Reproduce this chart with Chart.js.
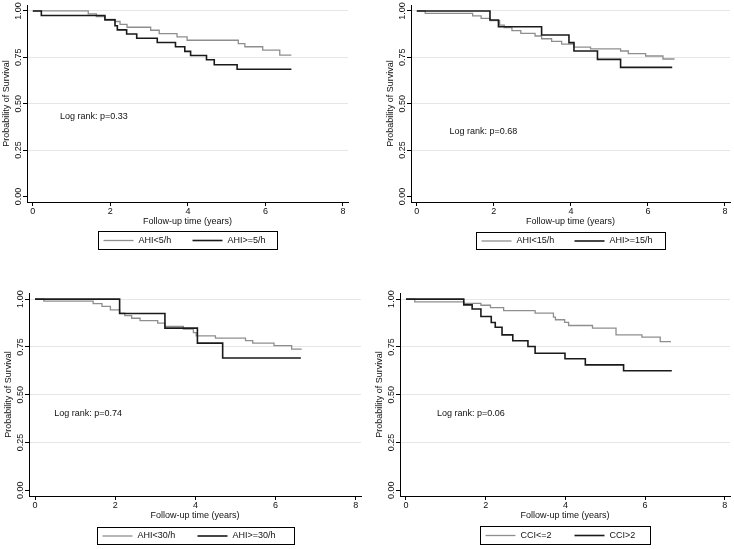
<!DOCTYPE html>
<html>
<head>
<meta charset="utf-8">
<script src="https://cdn.jsdelivr.net/npm/chart.js@4.4.1/dist/chart.umd.min.js"></script>
<style>
body { margin: 0; background: #fff; }
#wrap { position: relative; width: 734px; height: 549px; overflow: hidden; }
canvas { position: absolute; }
</style>
</head>
<body>
<div id="wrap">
  <canvas id="c1" width="358" height="254" style="left:0px;top:0px"></canvas>
  <canvas id="c2" width="350" height="254" style="left:384px;top:0px"></canvas>
  <canvas id="c3" width="365" height="258" style="left:2px;top:288px"></canvas>
  <canvas id="c4" width="361" height="258" style="left:373px;top:288px"></canvas>
</div>
<script>
// tick labels
var xTicks = [0, 2, 4, 6, 8];
var yTicks = [0, 0.25, 0.5, 0.75, 1];

// AHI 5/h
var ahi5LoTime = [0, 1.43, 1.64, 1.86, 2.12, 2.25, 2.43, 3.04, 3.26, 3.72, 3.98, 5.30, 5.47, 5.93, 6.37, 6.67];
var ahi5LoSurv = [1, 0.984, 0.969, 0.955, 0.943, 0.928, 0.912, 0.896, 0.878, 0.860, 0.842, 0.824, 0.807, 0.789, 0.762, 0.762];
var ahi5HiTime = [0, 0.22, 1.86, 2.12, 2.18, 2.42, 2.68, 3.21, 3.68, 3.92, 4.07, 4.48, 4.68, 5.27, 6.67];
var ahi5HiSurv = [1, 0.975, 0.952, 0.920, 0.898, 0.876, 0.853, 0.830, 0.807, 0.782, 0.760, 0.737, 0.710, 0.686, 0.686];

// AHI 15/h
var ahi15LoTime = [0, 0.22, 1.45, 1.67, 1.90, 2.15, 2.27, 2.47, 2.70, 3.07, 3.24, 3.50, 3.76, 4.08, 4.51, 5.29, 5.49, 5.94, 6.39, 6.69];
var ahi15LoSurv = [1, 0.987, 0.973, 0.960, 0.948, 0.924, 0.910, 0.894, 0.879, 0.865, 0.850, 0.836, 0.821, 0.805, 0.796, 0.784, 0.770, 0.757, 0.741, 0.741];
var ahi15HiTime = [0, 1.90, 2.12, 3.24, 3.95, 4.08, 4.69, 5.29, 6.63];
var ahi15HiSurv = [1, 0.951, 0.915, 0.870, 0.829, 0.784, 0.739, 0.696, 0.696];

// AHI 30/h
var ahi30LoTime = [0, 0.22, 1.45, 1.67, 1.88, 2.11, 2.24, 2.41, 2.62, 3.06, 3.24, 3.70, 3.95, 4.02, 4.50, 5.25, 5.43, 5.96, 6.40, 6.65];
var ahi30LoSurv = [1, 0.990, 0.976, 0.962, 0.944, 0.927, 0.914, 0.900, 0.888, 0.874, 0.857, 0.843, 0.825, 0.808, 0.796, 0.783, 0.770, 0.757, 0.738, 0.738];
var ahi30HiTime = [0, 2.11, 3.24, 4.05, 4.68, 6.63];
var ahi30HiSurv = [1, 0.925, 0.848, 0.770, 0.692, 0.692];

// CCI
var cciLoTime = [0, 0.22, 1.45, 1.88, 2.12, 2.45, 3.24, 3.70, 3.75, 3.98, 4.08, 4.68, 5.27, 5.92, 6.38, 6.65];
var cciLoSurv = [1, 0.986, 0.978, 0.968, 0.956, 0.940, 0.927, 0.906, 0.892, 0.878, 0.862, 0.848, 0.813, 0.801, 0.778, 0.778];
var cciHiTime = [0, 1.45, 1.66, 1.88, 2.14, 2.24, 2.41, 2.68, 3.06, 3.24, 3.99, 4.50, 5.46, 6.67];
var cciHiSurv = [1, 0.970, 0.948, 0.909, 0.878, 0.853, 0.813, 0.782, 0.752, 0.717, 0.688, 0.656, 0.625, 0.625];

var FONT = { family: '"Liberation Sans", Arial, sans-serif', size: 9 };
var FONT_CSS = '9px "Liberation Sans", Arial, sans-serif';
var TEXT = '#111';

function kmPoints(times, surv) {
    return times.map(function (t, i) { return { x: t, y: surv[i] }; });
}

// "Log rank" note, placed in data units
const logRank = {
    id: 'logRank',
    afterDatasetsDraw(chart, args, opts) {
        const {ctx, scales} = chart;
        ctx.save();
        ctx.font = FONT_CSS;
        ctx.fillStyle = TEXT;
        ctx.textAlign = 'left';
        ctx.textBaseline = 'middle';
        ctx.fillText(opts.text, scales.x.getPixelForValue(opts.x), scales.y.getPixelForValue(opts.y));
        ctx.restore();
    }
};

// boxed legend under the x title, stata style
const legendBox = {
    id: 'legendBox',
    afterDraw(chart, args, opts) {
        const {ctx, chartArea} = chart;
        const mid = (chartArea.left + chartArea.right) / 2;
        const left = Math.round(mid - opts.width / 2) + 0.5;
        const top = Math.round(chartArea.bottom + opts.offset) + 0.5;
        const cy = top + opts.height / 2;
        ctx.save();
        ctx.font = FONT_CSS;
        ctx.strokeStyle = '#000';
        ctx.lineWidth = 1;
        ctx.strokeRect(left, top, opts.width, opts.height);
        chart.data.datasets.forEach(function (ds, i) {
            const x0 = left + 5 + i * opts.pitch;
            ctx.strokeStyle = ds.borderColor;
            ctx.lineWidth = ds.borderWidth;
            ctx.beginPath();
            ctx.moveTo(x0, cy);
            ctx.lineTo(x0 + 30, cy);
            ctx.stroke();
            ctx.fillStyle = TEXT;
            ctx.textBaseline = 'middle';
            ctx.fillText(ds.label, x0 + 35, cy);
        });
        ctx.restore();
    }
};

function makeChart(id, p) {
    return new Chart(document.getElementById(id), {
        type: 'line',
        data: {
            datasets: [{
                label: p.labels[0],
                data: kmPoints(p.lo[0], p.lo[1]),
                borderColor: '#8e8e8e',
                borderWidth: 1.3,
                stepped: 'before',
                pointRadius: 0,
                order: 1
            }, {
                label: p.labels[1],
                data: kmPoints(p.hi[0], p.hi[1]),
                borderColor: '#1a1a1a',
                borderWidth: 1.6,
                stepped: 'before',
                pointRadius: 0,
                order: 0
            }]
        },
        options: {
            responsive: false,
            animation: false,
            layout: { padding: p.pad },
            plugins: {
                legend: { display: false },
                tooltip: { enabled: false },
                logRank: p.note,
                legendBox: p.legend
            },
            scales: {
                x: {
                    type: 'linear',
                    min: -0.15,
                    max: 8.13,
                    afterBuildTicks: function (s) { s.ticks = xTicks.map(function (v) { return { value: v }; }); },
                    afterFit: function (s) { s.height = 26; s.paddingLeft = 0; s.paddingRight = 0; },
                    grid: { drawOnChartArea: false, tickLength: 4, tickColor: '#000' },
                    border: { color: '#000', width: 1 },
                    ticks: { padding: 0, color: TEXT, font: FONT },
                    title: { display: true, text: 'Follow-up time (years)', color: TEXT, font: FONT, padding: { top: 0, bottom: 1 } }
                },
                y: {
                    min: -0.03,
                    max: 1.032,
                    afterBuildTicks: function (s) { s.ticks = yTicks.map(function (v) { return { value: v }; }); },
                    afterFit: function (s) { s.width = 27; s.paddingTop = 0; s.paddingBottom = 0; },
                    grid: {
                        color: function (c) { return c.tick && c.tick.value === 0 ? 'rgba(0,0,0,0)' : '#e6e6e6'; },
                        tickLength: 4,
                        tickColor: '#000'
                    },
                    border: { color: '#000', width: 1 },
                    ticks: {
                        minRotation: 90,
                        maxRotation: 90,
                        crossAlign: 'center',
                        padding: -4,
                        color: TEXT,
                        font: FONT,
                        callback: function (v) { return v.toFixed(2); }
                    },
                    title: { display: true, text: 'Probability of Survival', color: TEXT, font: FONT, padding: { top: 1.5, bottom: 0 } }
                }
            }
        },
        plugins: [logRank, legendBox]
    });
}

makeChart('c1', {
    labels: ['AHI<5/h', 'AHI>=5/h'],
    lo: [ahi5LoTime, ahi5LoSurv],
    hi: [ahi5HiTime, ahi5HiSurv],
    pad: { top: 5, right: 10, bottom: 26, left: 0 },
    note: { text: 'Log rank: p=0.33', x: 0.70, y: 0.43 },
    legend: { offset: 29, height: 18, width: 179, pitch: 89 }
});

makeChart('c2', {
    labels: ['AHI<15/h', 'AHI>=15/h'],
    lo: [ahi15LoTime, ahi15LoSurv],
    hi: [ahi15HiTime, ahi15HiSurv],
    pad: { top: 5, right: 4, bottom: 26, left: 0 },
    note: { text: 'Log rank: p=0.68', x: 0.85, y: 0.351 },
    legend: { offset: 30, height: 17, width: 189, pitch: 93 }
});

makeChart('c3', {
    labels: ['AHI<30/h', 'AHI>=30/h'],
    lo: [ahi30LoTime, ahi30LoSurv],
    hi: [ahi30HiTime, ahi30HiSurv],
    pad: { top: 5, right: 6, bottom: 24, left: 0 },
    note: { text: 'Log rank: p=0.74', x: 0.48, y: 0.403 },
    legend: { offset: 31, height: 17, width: 197, pitch: 95 }
});

makeChart('c4', {
    labels: ['CCI<=2', 'CCI>2'],
    lo: [cciLoTime, cciLoSurv],
    hi: [cciHiTime, cciHiSurv],
    pad: { top: 5, right: 4, bottom: 24, left: 0 },
    note: { text: 'Log rank: p=0.06', x: 0.78, y: 0.403 },
    legend: { offset: 30, height: 18, width: 170, pitch: 89 }
});
</script>
</body>
</html>
